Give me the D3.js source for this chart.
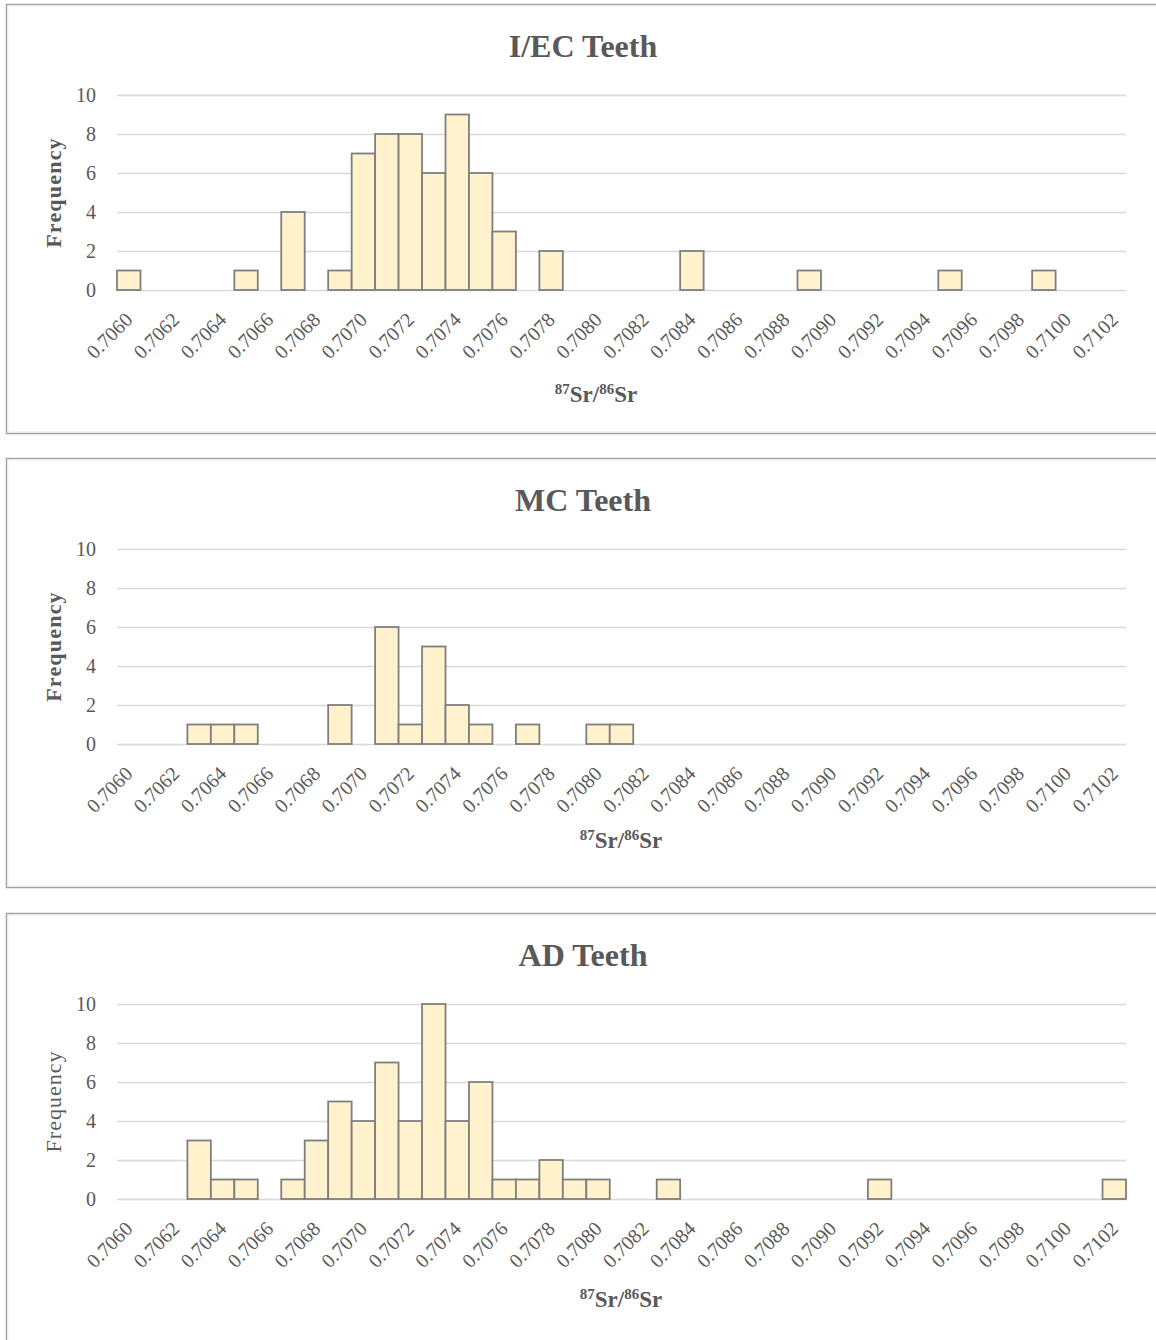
<!DOCTYPE html>
<html>
<head>
<meta charset="utf-8">
<script src="https://cdn.jsdelivr.net/npm/d3@7/dist/d3.min.js"></script>
<style>
  html, body { margin: 0; padding: 0; background: #fff; }
  svg { display: block; }
  text { font-family: "Liberation Serif", "Times New Roman", serif; fill: #595959; }
</style>
</head>
<body>
<svg id="chart" width="1156" height="1340"></svg>
<script>
// 87Sr/86Sr bins (lower bound of each 0.0001-wide bin)
const bins = [
  "0.7060","0.7061","0.7062","0.7063","0.7064","0.7065","0.7066","0.7067","0.7068","0.7069",
  "0.7070","0.7071","0.7072","0.7073","0.7074","0.7075","0.7076","0.7077","0.7078","0.7079",
  "0.7080","0.7081","0.7082","0.7083","0.7084","0.7085","0.7086","0.7087","0.7088","0.7089",
  "0.7090","0.7091","0.7092","0.7093","0.7094","0.7095","0.7096","0.7097","0.7098","0.7099",
  "0.7100","0.7101","0.7102"
];

// Bin labels printed on the axis (every second bin)
const tickLabels = [
  "0.7060","0.7062","0.7064","0.7066","0.7068","0.7070","0.7072","0.7074","0.7076","0.7078",
  "0.7080","0.7082","0.7084","0.7086","0.7088","0.7090","0.7092","0.7094","0.7096","0.7098",
  "0.7100","0.7102"
];

const freqTicks = [0, 2, 4, 6, 8, 10];

// Frequencies per bin
const iecCounts = [
  1,0,0,0,0,1,0,4,0,1,
  7,8,8,6,9,6,3,0,2,0,
  0,0,0,0,2,0,0,0,0,1,
  0,0,0,0,0,1,0,0,0,1,
  0,0,0
];
const mcCounts = [
  0,0,0,1,1,1,0,0,0,2,
  0,6,1,5,2,1,0,1,0,0,
  1,1,0,0,0,0,0,0,0,0,
  0,0,0,0,0,0,0,0,0,0,
  0,0,0
];
const adCounts = [
  0,0,0,3,1,1,0,1,3,5,
  4,7,4,10,4,6,1,1,2,1,
  1,0,0,1,0,0,0,0,0,0,
  0,0,1,0,0,0,0,0,0,0,
  0,0,1
];

const panels = [
  { title: "I/EC Teeth", counts: iecCounts, top: 4,   yTitleBold: true,  xTitleX: 596, xTitleDy: 398 },
  { title: "MC Teeth",   counts: mcCounts,  top: 458, yTitleBold: true,  xTitleX: 621, xTitleDy: 390 },
  { title: "AD Teeth",   counts: adCounts,  top: 913, yTitleBold: false, xTitleX: 621, xTitleDy: 394 }
];

const svg = d3.select("#chart");
const plotLeft = 117, plotRight = 1126;

const x = d3.scaleBand().domain(bins).range([plotLeft, plotRight]).padding(0);

panels.forEach(p => {
  const g = svg.append("g");
  const plotTop = p.top + 91, plotBottom = p.top + 286;
  const y = d3.scaleLinear().domain([0, 10]).range([plotBottom, plotTop]);

  // frame
  g.append("rect")
    .attr("x", 6.5).attr("y", p.top + 0.5)
    .attr("width", 1152).attr("height", 429)
    .attr("fill", "#fff").attr("stroke", "#a3a3a3").attr("stroke-width", 1.5);
  g.append("rect")
    .attr("x", 8).attr("y", p.top + 2)
    .attr("width", 1149).attr("height", 426)
    .attr("fill", "none").attr("stroke", "#ececec").attr("stroke-width", 1);

  // title
  g.append("text")
    .attr("x", 583).attr("y", p.top + 53)
    .attr("text-anchor", "middle")
    .style("font-size", "32px").style("font-weight", "bold")
    .text(p.title);

  // horizontal gridlines
  g.append("g")
    .attr("transform", `translate(${plotLeft},0)`)
    .call(d3.axisLeft(y).tickValues(freqTicks).tickSize(-(plotRight - plotLeft)).tickFormat(""))
    .call(a => a.select(".domain").remove())
    .call(a => a.selectAll("line").attr("stroke", "#d9d9d9").attr("stroke-width", 1.5));

  // y tick labels
  g.append("g")
    .attr("transform", `translate(${plotLeft},0)`)
    .call(d3.axisLeft(y).tickValues(freqTicks).tickSize(0).tickPadding(21))
    .call(a => a.select(".domain").remove())
    .call(a => a.selectAll("text")
      .style("font-size", "20px")
      .style("font-family", "'Liberation Serif', serif")
      .attr("fill", "#595959"));

  // bars
  g.append("g").selectAll("rect")
    .data(bins.map((b, i) => ({ bin: b, v: p.counts[i] })).filter(d => d.v > 0))
    .join("rect")
    .attr("x", d => x(d.bin))
    .attr("y", d => y(d.v))
    .attr("width", x.bandwidth())
    .attr("height", d => y(0) - y(d.v))
    .attr("fill", "#fff2cc")
    .attr("stroke", "#7f7f7f")
    .attr("stroke-width", 1.8);

  // x tick labels (rotated)
  const xa = g.append("g")
    .attr("transform", `translate(0,${plotBottom})`)
    .call(d3.axisBottom(x).tickValues(tickLabels).tickSize(0).tickFormat(d => d));
  xa.select(".domain").remove();
  xa.selectAll("text")
    .style("font-size", "20px")
    .style("font-family", "'Liberation Serif', serif")
    .attr("fill", "#595959")
    .attr("text-anchor", "end")
    .attr("dy", null)
    .attr("y", 0)
    .attr("transform", "translate(5,31) rotate(-45)");

  // y axis title
  g.append("text")
    .attr("transform", `translate(61,${(plotTop + plotBottom) / 2}) rotate(-90)`)
    .attr("text-anchor", "middle")
    .style("font-size", "22px")
    .style("letter-spacing", p.yTitleBold ? "1.2px" : "1px")
    .style("font-weight", p.yTitleBold ? "bold" : "normal")
    .text("Frequency");

  // x axis title with isotope superscripts
  const xt = g.append("text")
    .attr("x", p.xTitleX).attr("y", p.top + p.xTitleDy)
    .attr("text-anchor", "middle")
    .style("font-size", "23px").style("font-weight", "bold");
  xt.append("tspan").attr("dy", -8).style("font-size", "15px").text("87");
  xt.append("tspan").attr("dy", 8).text("Sr/");
  xt.append("tspan").attr("dy", -8).style("font-size", "15px").text("86");
  xt.append("tspan").attr("dy", 8).text("Sr");
});
</script>
</body>
</html>
